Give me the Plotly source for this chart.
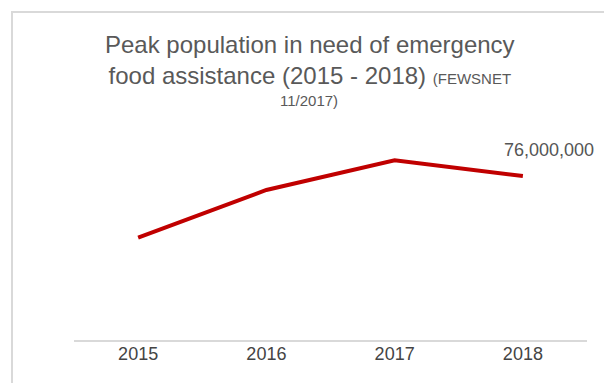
import plotly.graph_objects as go

years = ["2015", "2016", "2017", "2018"]
people = [47600000, 69600000, 83300000, 76000000]
end_label = "76,000,000"

# page body has an 8px margin; build the figure to fit inside the window
OFF = 8
W, H = 612 - OFF, 383 - OFF
# target positions in window pixels
PL, PR, PT, PB = 74, 587, 124, 341
L, R, T, B = PL - OFF, W - (PR - OFF), PT - OFF, H - (PB - OFF)
pw = W - L - R
ph = H - T - B

def px_x(p):
    return (p - OFF - L) / pw

def px_y(p):
    return (H - B - (p - OFF)) / ph

FONT = "Liberation Sans, Arial, sans-serif"

fig = go.Figure()
fig.add_trace(go.Scatter(
    x=years, y=people, mode="lines",
    line=dict(color="#c00000", width=4),
    hoverinfo="skip", showlegend=False,
))

fig.add_annotation(
    x=len(years) - 1, y=people[-1], xref="x", yref="y",
    text=end_label, showarrow=False,
    xanchor="center", yanchor="middle",
    xshift=26, yshift=26,
    font=dict(family=FONT, size=18, color="#555555"),
)

fig.add_annotation(
    x=px_x(310), y=px_y(60), xref="paper", yref="paper",
    text="Peak population in need of emergency<br>food assistance (2015 - 2018) "
         "<span style='font-size:15px'>(FEWSNET</span>",
    showarrow=False, xanchor="center", yanchor="middle", align="center",
    font=dict(family=FONT, size=24, color="#595959"),
)
fig.add_annotation(
    x=px_x(309), y=px_y(101), xref="paper", yref="paper",
    text="11/2017)", showarrow=False, xanchor="center", yanchor="middle",
    font=dict(family=FONT, size=15, color="#595959"),
)

fig.add_shape(
    type="rect", xref="paper", yref="paper",
    x0=px_x(12), x1=px_x(605), y0=px_y(420), y1=px_y(12),
    line=dict(color="#d9d9d9", width=2), fillcolor="rgba(0,0,0,0)", layer="below",
)

fig.update_layout(
    width=W, height=H,
    margin=dict(l=L, r=R, t=T, b=B),
    paper_bgcolor="white", plot_bgcolor="white",
    font=dict(family=FONT, color="#444444"),
    xaxis=dict(
        type="category", range=[-0.5, 3.5],
        showgrid=False, zeroline=False,
        showline=False, ticks="",
        tickfont=dict(size=18, color="#444444"),
    ),
    yaxis=dict(
        range=[0, 100000000], showgrid=False, zeroline=True,
        zerolinecolor="#d9d9d9", zerolinewidth=2,
        showticklabels=False, ticks="", showline=False,
    ),
)

fig.write_html("out.html")
